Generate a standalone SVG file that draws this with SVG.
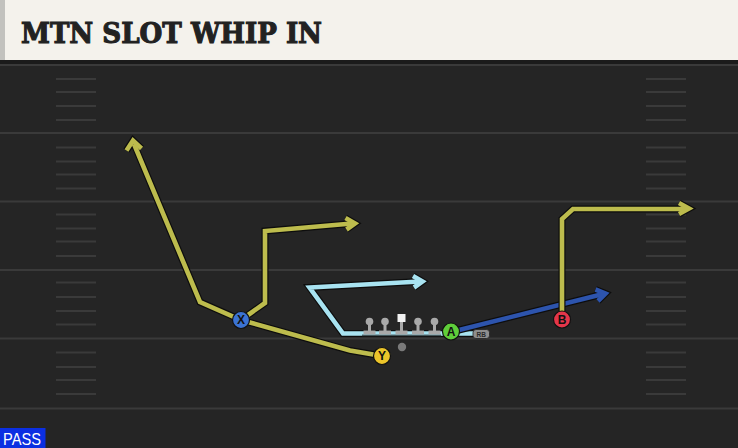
<svg xmlns="http://www.w3.org/2000/svg" width="738" height="448" viewBox="0 0 738 448">
<style>
.yard{stroke:#3a3a3a;stroke-width:2}
.hash{stroke:#3a3a3a;stroke-width:2}
.out{fill:none;stroke:#0d0d0d;stroke-width:7;stroke-linejoin:miter;stroke-linecap:butt}
.rt{fill:none;stroke-width:4.6;stroke-linejoin:miter;stroke-linecap:butt}
.ylw{stroke:#bdbc4d}
.cyn{stroke:#a8e3f1}
.blu{stroke:#2d54ad}
.ah{fill:none;stroke-width:4.6;stroke-linejoin:miter;stroke-linecap:butt}
.pl{stroke:#111;stroke-width:1.2}
.lbl{font-family:"Liberation Sans",Arial,sans-serif;font-weight:bold;font-size:12px;fill:#111;text-anchor:middle}
.ol{fill:#a9a9a9}
</style>
<rect x="0" y="0" width="738" height="448" fill="#252525"/>
<!-- header -->
<rect x="0" y="0" width="738" height="60" fill="#f4f2ec"/>
<rect x="0" y="0" width="5" height="60" fill="#c2c2be"/>
<rect x="0" y="60" width="738" height="4" fill="#1b1b1b"/>
<text x="21" y="42.5" font-family="'DejaVu Serif',serif" font-weight="bold" font-size="28" fill="#222" stroke="#222" stroke-width="1.1" textLength="301" lengthAdjust="spacingAndGlyphs">MTN SLOT WHIP IN</text>
<!-- field lines -->
<g id="field">
<line class="yard" x1="0" y1="65" x2="738" y2="65"/>
<line class="yard" x1="0" y1="133" x2="738" y2="133"/>
<line class="yard" x1="0" y1="201.5" x2="738" y2="201.5"/>
<line class="yard" x1="0" y1="270" x2="738" y2="270"/>
<line class="yard" x1="0" y1="338.5" x2="738" y2="338.5"/>
<line class="yard" x1="0" y1="408.5" x2="738" y2="408.5"/>
<g class="hash">
<path d="M56 79H96M56 92H96M56 106H96M56 120H96M56 147.5H96M56 161.5H96M56 174.5H96M56 188.5H96M56 214.5H96M56 228.5H96M56 241.5H96M56 256H96M56 282.5H96M56 297H96M56 311H96M56 324.5H96M56 352.5H96M56 367H96M56 380H96M56 394H96"/>
<path d="M646 79H686M646 92H686M646 106H686M646 120H686M646 147.5H686M646 161.5H686M646 174.5H686M646 188.5H686M646 214.5H686M646 228.5H686M646 241.5H686M646 256H686M646 282.5H686M646 297H686M646 311H686M646 324.5H686M646 352.5H686M646 367H686M646 380H686M646 394H686"/>
</g>
</g>
<!-- connectors -->
<g id="routes">
<!-- RB route (cyan) -->
<path class="out" d="M481 333.5H343L309.5 287.5L420 281.5"/>
<path class="out" d="M413 276L422.5 281.5L414 287.5"/>
<path class="rt cyn" d="M481 333.5H343L309.5 287.5L420 281.5"/>
<path class="ah cyn" d="M413 276L422.5 281.5L414 287.5"/>
<!-- A route (blue) -->
<path class="out" d="M451 332L603 294"/>
<path class="out" d="M595.5 289.5L605.5 293.5L598 301"/>
<path class="rt blu" d="M451 332L603 294"/>
<path class="ah blu" d="M595.5 289.5L605.5 293.5L598 301"/>
<!-- Y route -->
<path class="out" d="M382 356L350 350.5L241 320L200 302L134 144"/>
<path class="out" d="M126.5 150.5L133 140.5L141.5 148.5"/>
<path class="rt ylw" d="M382 356L350 350.5L241 320L200 302L134 144"/>
<path class="ah ylw" d="M126.5 150.5L133 140.5L141.5 148.5"/>
<!-- X route -->
<path class="out" d="M241 320L265 303V231L352 223.5"/>
<path class="out" d="M345.5 218L355 223.5L346.5 229.5"/>
<path class="rt ylw" d="M241 320L265 303V231L352 223.5"/>
<path class="ah ylw" d="M345.5 218L355 223.5L346.5 229.5"/>
<!-- B route -->
<path class="out" d="M562 319V219L573 209H686"/>
<path class="out" d="M679 203L689 208.5L679 214"/>
<path class="rt ylw" d="M562 319V219L573 209H686"/>
<path class="ah ylw" d="M679 203L689 208.5L679 214"/>
</g>
<!-- offensive line -->
<g id="line">
<rect x="362" y="334.5" width="79" height="2.5" fill="#1a1a1a" opacity="0.6"/>
<g id="ol1"><circle class="ol" cx="369.5" cy="321.5" r="3.8"/><rect class="ol" x="368" y="323" width="3" height="8"/><rect class="ol" x="363.5" y="330.5" width="12" height="4"/></g>
<g id="ol2"><circle class="ol" cx="385" cy="321.5" r="3.8"/><rect class="ol" x="383.5" y="323" width="3" height="8"/><rect class="ol" x="379" y="330.5" width="12" height="4"/></g>
<g id="center"><rect x="397.5" y="314" width="8" height="8" fill="#f2f2f2"/><rect class="ol" x="400" y="322" width="3" height="9"/><rect class="ol" x="395.5" y="330.5" width="12" height="4"/></g>
<g id="ol4"><circle class="ol" cx="418" cy="321.5" r="3.8"/><rect class="ol" x="416.5" y="323" width="3" height="8"/><rect class="ol" x="412" y="330.5" width="12" height="4"/></g>
<g id="ol5"><circle class="ol" cx="434.5" cy="321.5" r="3.8"/><rect class="ol" x="433" y="323" width="3" height="8"/><rect class="ol" x="428.5" y="330.5" width="12" height="4"/></g>
</g>
<g id="qb"><circle cx="402" cy="347" r="4.2" fill="#7a7a7a"/></g>
<g id="rb"><rect x="473" y="329.5" width="16.5" height="9" rx="3" fill="#8e8e8e" stroke="#222" stroke-width="0.8"/><text x="481.2" y="336.6" font-family="'Liberation Sans',Arial,sans-serif" font-weight="bold" font-size="6.5" fill="#2a2a2a" text-anchor="middle">RB</text></g>
<!-- players -->
<g id="X"><circle class="pl" cx="241" cy="320" r="8.5" fill="#3b73d3"/><text class="lbl" x="241" y="324.3">X</text></g>
<g id="Y"><circle class="pl" cx="382" cy="356" r="8.5" fill="#ecc52a"/><text class="lbl" x="382" y="360.3">Y</text></g>
<g id="A"><circle class="pl" cx="451" cy="331.5" r="8.5" fill="#5fce3a"/><text class="lbl" x="451" y="335.8">A</text></g>
<g id="B"><circle class="pl" cx="562" cy="319.5" r="8.5" fill="#e5364a"/><text class="lbl" x="562" y="323.8">B</text></g>
<!-- play type -->
<g id="pass"><rect x="0" y="428" width="45.5" height="20" fill="#0b2fe2"/><text x="3" y="445" font-family="'Liberation Sans',Arial,sans-serif" font-size="16.5" fill="#ffffff" textLength="38" lengthAdjust="spacingAndGlyphs">PASS</text></g>
</svg>
